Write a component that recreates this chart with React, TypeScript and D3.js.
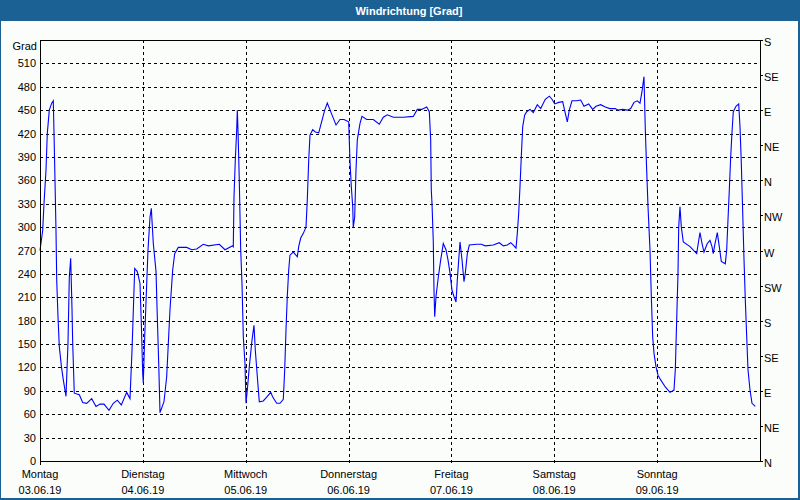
import React from "react";
import * as d3 from "d3";

// ---- data ----
const title = "Windrichtung [Grad]";
const yAxisTitle = "Grad";
const dayNames = ["Montag", "Dienstag", "Mittwoch", "Donnerstag", "Freitag", "Samstag", "Sonntag"];
const dayDates = ["03.06.19", "04.06.19", "05.06.19", "06.06.19", "07.06.19", "08.06.19", "09.06.19"];
const leftTicks = [0, 30, 60, 90, 120, 150, 180, 210, 240, 270, 300, 330, 360, 390, 420, 450, 480, 510];
const compassTicks = [0, 45, 90, 135, 180, 225, 270, 315, 360, 405, 450, 495, 540];
const compassLabels = ["N", "NE", "E", "SE", "S", "SW", "W", "NW", "N", "NE", "E", "SE", "S"];

// hours since Monday 00:00
const hours = [
  0, 0.63, 0.93, 1.4, 1.7, 2.17, 2.73, 3.1, 3.27, 3.5, 3.73, 3.9, 4.2, 4.5, 5.0, 5.44, 6.07,
  6.53, 6.84, 7.16, 7.47, 7.63, 8.0, 9.17, 9.96, 10.9, 12.06, 13.07, 14.0, 14.93, 16.1, 17.1,
  18.04, 18.97, 20.23, 21.0, 21.47, 22.1, 22.7, 23.33, 23.64, 23.96, 24.1, 24.43, 24.73, 25.2,
  25.67, 25.97, 26.44, 27.07, 27.37, 27.7, 28.0, 28.93, 29.56, 30.33, 30.96, 31.43, 32.27,
  34.23, 35.4, 36.56, 38.1, 39.27, 41.84, 43.17, 44.96, 45.1, 45.27, 45.57, 45.9, 46.04, 46.2,
  46.5, 46.83, 47.13, 47.44, 47.83, 48.07, 48.37, 48.84, 49.47, 49.93, 50.24, 50.71, 51.17,
  52.1, 52.9, 53.83, 54.3, 55.23, 56.0, 56.77, 57.1, 57.4, 57.7, 58.03, 58.33, 59.1, 60.04,
  60.36, 60.83, 61.44, 62.07, 62.37, 62.7, 63.0, 63.63, 64.24, 65.03, 65.8, 66.43, 67.04,
  68.13, 69.07, 70.0, 70.93, 72.03, 72.33, 72.64, 72.97, 73.1, 73.43, 73.73, 74.04, 74.67,
  75.13, 76.23, 77.77, 79.17, 80.1, 81.04, 82.44, 84.77, 87.1, 88.04, 89.06, 90.23, 90.84,
  91.16, 91.3, 91.47, 91.77, 91.93, 92.1, 92.4, 92.94, 93.5, 94.1, 94.73, 95.2, 95.67, 96.13,
  96.6, 97.07, 97.37, 97.7, 98.0, 98.47, 98.93, 99.24, 99.71, 100.17, 101.9, 102.97, 103.9,
  105.77, 107.17, 108.1, 109.04, 109.83, 110.44, 111.07, 111.37, 111.7, 112.0, 112.3, 112.63,
  113.1, 113.57, 114.33, 115.1, 116.04, 116.83, 117.9, 118.84, 119.47, 120.1, 121.03, 121.96,
  122.57, 123.04, 123.5, 124.13, 125.23, 126.16, 126.93, 128.03, 128.96, 129.73, 130.83,
  131.9, 133.0, 134.24, 134.87, 135.96, 137.04, 137.83, 138.6, 139.37, 140.0, 140.47, 140.93,
  141.24, 141.56, 141.87, 142.33, 142.64, 142.96, 143.27, 143.73, 144.2, 144.83, 145.9, 147.0,
  147.93, 148.24, 148.56, 148.87, 149.03, 149.33, 149.64, 150.1, 151.67, 153.23, 153.7, 154.0,
  154.47, 154.93, 155.7, 156.33, 156.8, 157.1, 157.43, 158.04, 158.5, 158.97, 159.9, 160.23,
  160.53, 160.84, 161.16, 161.47, 161.77, 162.4, 163.03, 163.33, 163.64, 163.97, 164.27,
  164.57, 164.9, 165.2, 165.67, 166.13, 166.9,
];

const degrees = [
  270, 296, 330, 373, 420, 450, 459, 462, 420, 360, 296, 232, 185, 147, 121, 104, 83,
  151, 236, 260, 194, 151, 87, 85, 75, 74, 80, 70, 73, 73, 65, 74,
  78, 72, 88, 80, 142, 247, 243, 228, 177, 113, 100, 159, 203, 271,
  313, 324, 279, 243, 185, 125, 62, 76, 108, 194, 245, 266, 274,
  274, 271, 272, 278, 276, 278, 271, 276, 275, 339, 386, 425, 450, 425,
  360, 271, 228, 159, 125, 74, 91, 121, 155, 174, 142, 108, 76,
  77, 82, 88, 82, 74, 74, 79, 117, 168, 211, 245, 264, 268, 262,
  275, 286, 292, 300, 335, 386, 418, 425, 422, 421, 437, 450, 459,
  444, 431, 438, 438, 435, 384, 352, 326, 300, 313, 373, 412, 433,
  442, 438, 438, 432, 441, 444, 441, 441, 442, 451, 451, 454, 448,
  412, 348, 330, 281, 219, 185, 211, 236, 258, 279, 271, 258, 241, 219,
  211, 204, 232, 258, 281, 258, 230, 241, 266, 277, 278, 278, 276,
  277, 280, 276, 277, 280, 277, 273, 292, 318, 352, 390, 429,
  444, 448, 451, 447, 457, 452, 464, 468, 464, 458, 460, 461,
  446, 435, 450, 462, 462, 463, 455, 458, 451, 455, 457,
  454, 452, 452, 450, 451, 450, 452, 460, 462, 459, 474, 493,
  425, 373, 326, 271, 211, 159, 138, 121, 110, 104, 95, 88,
  91, 117, 181, 241, 300, 326, 300, 281, 275, 266, 283, 293,
  279, 268, 279, 283, 275, 266, 277, 293, 275, 256, 253, 271,
  309, 348, 390, 422, 448, 455, 458, 429, 382, 318, 258,
  207, 159, 117, 91, 74, 70,
];

const W = 800;
const H = 500;
const plot = { left: 40, right: 760, top: 40, bottom: 461 };
const FONT = "'Liberation Sans', Arial, sans-serif";

export default function App() {
  const x = d3.scaleLinear().domain([0, 168]).range([plot.left, plot.right]);
  const y = d3.scaleLinear().domain([0, 540]).range([plot.bottom, plot.top]);
  const pts: [number, number][] = hours.map((h, i) => [h, degrees[i]]);
  const line = d3
    .line<[number, number]>()
    .x((d) => x(d[0]))
    .y((d) => y(d[1]));
  const dayTicks = d3.range(0, 7).map((i) => i * 24);

  return (
    <div style={{ position: "fixed", left: 0, top: 0 }}>
      <svg width={W} height={H} style={{ display: "block" }} fontFamily={FONT}>
        <rect x={0} y={0} width={W} height={H} fill="#fbfdfb" />
        {/* title bar */}
        <rect x={0} y={0} width={W} height={21} fill="#1c6194" />
        <text x={409} y={15} fill="#ffffff" fontSize={11} fontWeight="bold" textAnchor="middle">
          {title}
        </text>
        {/* frame */}
        <rect x={0} y={0} width={1} height={H} fill="#1c6194" />
        <rect x={W - 2} y={0} width={2} height={H} fill="#1c6194" />
        <rect x={0} y={H - 2} width={W} height={2} fill="#1c6194" />

        {/* horizontal grid */}
        {leftTicks
          .filter((t) => t > 0)
          .map((t) => (
            <line
              key={"hg" + t}
              x1={plot.left}
              x2={plot.right}
              y1={Math.round(y(t)) + 0.5}
              y2={Math.round(y(t)) + 0.5}
              stroke="#000"
              strokeDasharray="3,3"
              shapeRendering="crispEdges"
            />
          ))}
        {/* vertical grid */}
        {dayTicks
          .filter((t) => t > 0)
          .map((t) => (
            <line
              key={"vg" + t}
              x1={Math.round(x(t)) + 0.5}
              x2={Math.round(x(t)) + 0.5}
              y1={plot.top}
              y2={plot.bottom + 3}
              stroke="#000"
              strokeDasharray="3,3"
              shapeRendering="crispEdges"
            />
          ))}

        {/* data line */}
        <path d={line(pts) || ""} fill="none" stroke="#0000ff" strokeWidth={1.1} />

        {/* plot frame */}
        <rect
          x={plot.left + 0.5}
          y={plot.top + 0.5}
          width={plot.right - plot.left}
          height={plot.bottom - plot.top}
          fill="none"
          stroke="#000"
          shapeRendering="crispEdges"
        />
        <line x1={plot.left + 0.5} x2={plot.left + 0.5} y1={plot.bottom} y2={plot.bottom + 4} stroke="#000" shapeRendering="crispEdges" />

        {/* left axis labels */}
        <text x={37} y={50} fontSize={11} textAnchor="end" fill="#000">
          {yAxisTitle}
        </text>
        {leftTicks.map((t) => (
          <text key={"lt" + t} x={36} y={y(t) + 4} fontSize={11} textAnchor="end" fill="#000">
            {t}
          </text>
        ))}

        {/* right compass axis */}
        {compassTicks.map((t, i) => (
          <g key={"rt" + t}>
            <line
              x1={plot.right}
              x2={plot.right + 3}
              y1={Math.round(y(t)) + 0.5}
              y2={Math.round(y(t)) + 0.5}
              stroke="#000"
              shapeRendering="crispEdges"
            />
            <text x={764} y={y(t) + 6} fontSize={11} fill="#000">
              {compassLabels[i]}
            </text>
          </g>
        ))}

        {/* x axis labels */}
        {dayTicks.map((t, i) => (
          <g key={"xt" + t}>
            <text x={x(t)} y={478} fontSize={11} textAnchor="middle" fill="#000">
              {dayNames[i]}
            </text>
            <text x={x(t)} y={494} fontSize={11} textAnchor="middle" fill="#000">
              {dayDates[i]}
            </text>
          </g>
        ))}
      </svg>
    </div>
  );
}
